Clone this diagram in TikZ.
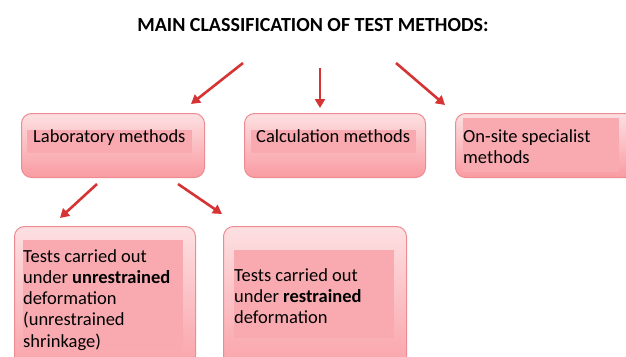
\documentclass[tikz,border=0pt]{standalone}
\usepackage{fontspec}
\setmainfont{Carlito}
\usetikzlibrary{arrows.meta}
\definecolor{boxtop}{RGB}{253,224,226}
\definecolor{boxbot}{RGB}{249,155,162}
\definecolor{boxline}{RGB}{236,140,146}
\definecolor{hl}{RGB}{248,170,176}
\definecolor{arr}{RGB}{214,52,52}
\begin{document}
\begin{tikzpicture}[x=1pt,y=-1pt,
  box/.style={draw=boxline, line width=1pt, rounded corners=10pt, top color=boxtop, bottom color=boxbot, minimum width=#1, anchor=north west, inner sep=0pt},
  txt/.style={font=\fontsize{18.5}{21.3}\selectfont, inner sep=0pt, align=left, anchor=north west},
  arrow/.style={draw=arr, line width=2.6pt, -{Triangle[length=9pt,width=10pt]}}]
\useasboundingbox (0,0) rectangle (626,356);
\clip (0,0) rectangle (626,356);
\node[font=\bfseries\fontsize{20}{24}\selectfont, anchor=base] (title) at (313,31) {MAIN CLASSIFICATION OF TEST METHODS:};
% level 1 boxes
\node[box=183pt, minimum height=64pt] (lab) at (21,113) {};
\node[box=181pt, minimum height=64pt] (calc) at (244,113) {};
\node[box=190pt, minimum height=64pt] (site) at (455,113) {};
\fill[hl] (27,130) rectangle (192,153);
\fill[hl] (251,130) rectangle (416,153);
\fill[hl] (463,118) rectangle (619,172);
\node[txt] (labt) at (33,129) {Laboratory methods};
\node[txt] (calct) at (256,129) {Calculation methods};
\node[txt] (sitet) at (463,129) {On-site specialist\\methods};
% level 2 boxes
\node[box=181pt, minimum height=160pt] (unr) at (14,226) {};
\node[box=183pt, minimum height=160pt] (res) at (223,226) {};
\fill[hl] (23,240) rectangle (183,350);
\fill[hl] (234,250) rectangle (394,338);
\node[txt] (unrt) at (23,249) {Tests carried out\\under \textbf{unrestrained}\\deformation\\(unrestrained\\shrinkage)};
\node[txt] (rest) at (234,268) {Tests carried out\\under \textbf{restrained}\\deformation};
% arrows
\coordinate (a1) at (243,63);
\coordinate (a2) at (320,68);
\coordinate (a3) at (396,63);
\coordinate (b1) at (97,184);
\coordinate (b2) at (178,184);
\draw[arrow] (a1) -- (191,104);
\draw[arrow] (a2) -- (320,108);
\draw[arrow] (a3) -- (445,105);
\draw[arrow] (b1) -- (60,218);
\draw[arrow] (b2) -- (222,214);
\end{tikzpicture}
\end{document}
